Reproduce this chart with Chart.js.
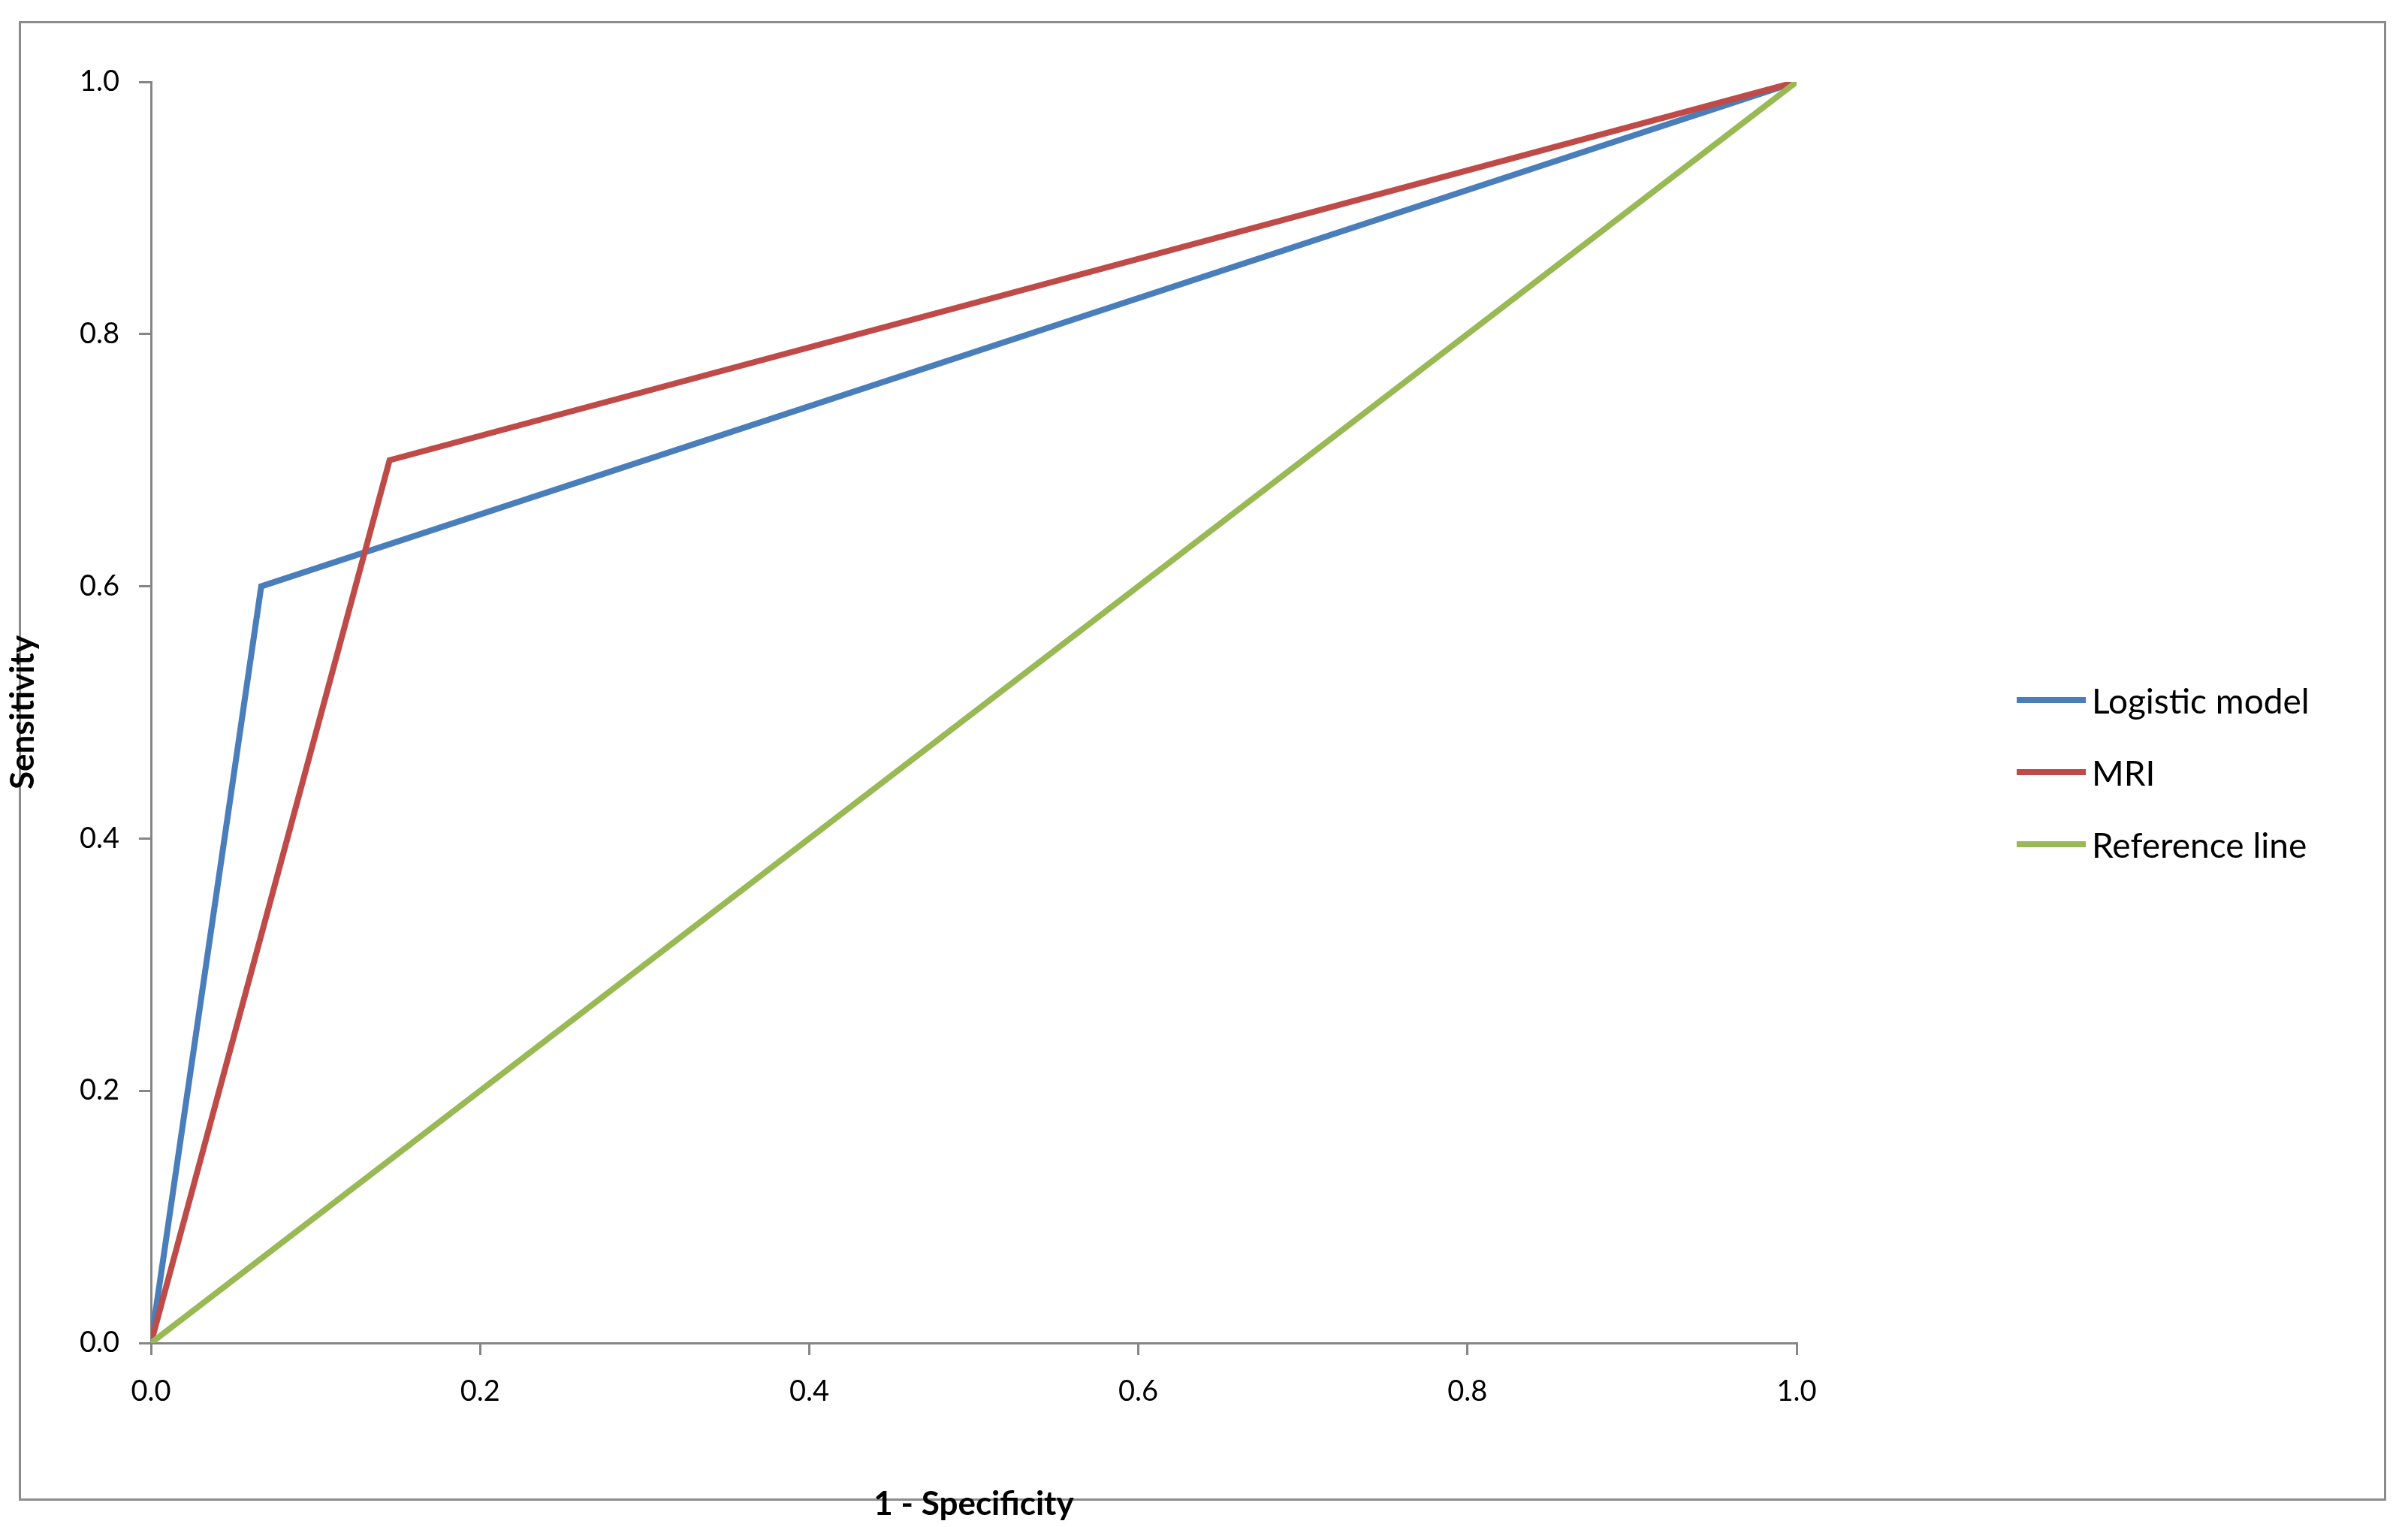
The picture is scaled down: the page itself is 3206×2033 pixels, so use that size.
<!DOCTYPE html>
<html><head><meta charset="utf-8">
<script src="https://cdn.jsdelivr.net/npm/chart.js@4"></script>
<style>
html,body{margin:0;padding:0;background:#fff;}
#wrap{position:relative;width:3206px;height:2033px;}
#frame{position:absolute;left:25px;top:28px;width:3152px;height:1970px;border:3px solid #8c8c8c;box-sizing:border-box;}
canvas{position:absolute;left:0;top:0;}
#legend{position:absolute;left:2685px;top:884px;font-family:Lato,"Open Sans",sans-serif;font-size:46px;color:#000;}
.it{display:flex;align-items:center;height:96px;}
.sw{width:92px;height:8px;margin-right:8px;}
</style></head><body>
<div id="wrap"><div id="frame"></div><canvas id="c" width="3206" height="2033"></canvas>
<div id="legend"></div></div>
<script>
const seriesNames = ["Logistic model","MRI","Reference line"];
const logisticX = [0, 0.067, 1];
const logisticY = [0, 0.6, 1];
const mriX = [0, 0.145, 1];
const mriY = [0, 0.7, 1];
const refX = [0, 1];
const refY = [0, 1];
const colors = ["#4A7EBB","#BE4B48","#98B954"];
const xs=[logisticX,mriX,refX], ys=[logisticY,mriY,refY];
const datasets = seriesNames.map((n,i)=>({label:n,data:xs[i].map((x,j)=>({x:x,y:ys[i][j]})),borderColor:colors[i],borderWidth:8,pointRadius:0,fill:false,tension:0,order:-i}));
const font={family:"Lato, 'Open Sans', sans-serif",size:38};
const grid={display:true,drawOnChartArea:false,drawTicks:true,tickLength:16,color:"#868686",lineWidth:3};
new Chart(document.getElementById('c'),{type:'line',data:{datasets},
options:{responsive:false,animation:false,
layout:{padding:{left:0,top:109,right:814,bottom:0}},
plugins:{legend:{display:false},tooltip:{enabled:false}},
scales:{
x:{type:'linear',min:0,max:1,ticks:{stepSize:0.2,padding:26,color:"#000",font,callback:v=>v.toFixed(1)},grid,border:{color:"#868686",width:3},
 title:{display:true,text:"1 - Specificity",color:"#000",font:{family:font.family,size:44,weight:'bold'},padding:{top:30}},
 afterFit:s=>{s.height=245;}},
y:{type:'linear',min:0,max:1,ticks:{stepSize:0.2,padding:26,color:"#000",font,callback:v=>v.toFixed(1)},grid,border:{color:"#868686",width:3},
 title:{display:true,text:"Sensitivity",color:"#000",font:{family:font.family,size:44,weight:'bold'},padding:{bottom:30}},
 afterFit:s=>{s.width=201;}}
}}});
const lg=document.getElementById('legend');
seriesNames.forEach((n,i)=>{const d=document.createElement('div');d.className='it';d.innerHTML=`<span class="sw" style="background:${colors[i]}"></span><span>${n}</span>`;lg.appendChild(d);});
</script></body></html>
